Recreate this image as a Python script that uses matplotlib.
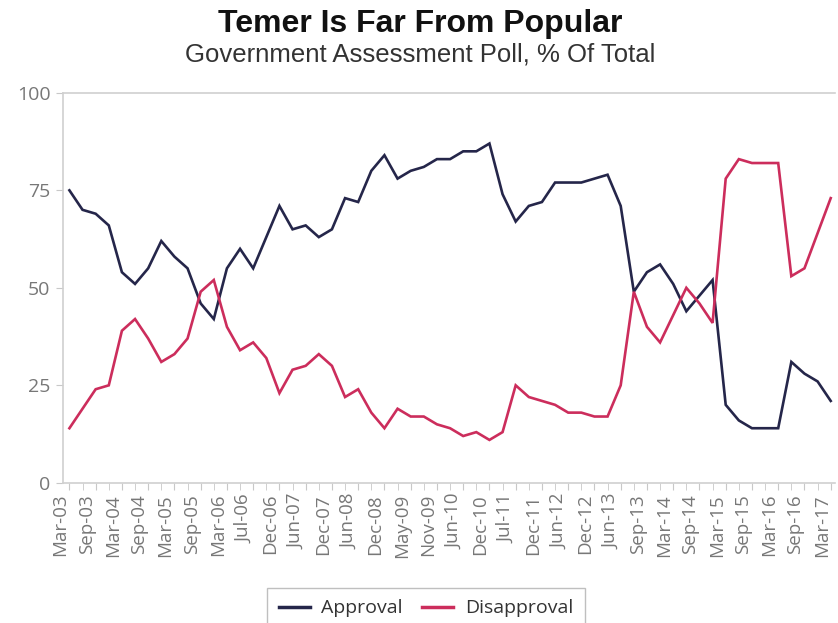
import matplotlib
matplotlib.use('Agg')
import matplotlib.pyplot as plt
import numpy as np

# poll readings, one per survey (59 surveys)
approval = [75, 70, 69, 66, 54, 51, 55, 62, 58, 55, 46, 42, 55, 60, 55, 63, 71, 65, 66, 63,
            65, 73, 72, 80, 84, 78, 80, 81, 83, 83, 85, 85, 87, 74, 67, 71, 72, 77, 77, 77,
            78, 79, 71, 49, 54, 56, 51, 44, 48, 52, 20, 16, 14, 14, 14, 31, 28, 26, 21]
disapproval = [14, 19, 24, 25, 39, 42, 37, 31, 33, 37, 49, 52, 40, 34, 36, 32, 23, 29, 30, 33,
               30, 22, 24, 18, 14, 19, 17, 17, 15, 14, 12, 13, 11, 13, 25, 22, 21, 20, 18, 18,
               17, 17, 25, 49, 40, 36, 43, 50, 46, 41, 78, 83, 82, 82, 82, 53, 55, 64, 73]

# every second survey gets a label
tick_labels = ['Mar-03', 'Sep-03', 'Mar-04', 'Sep-04', 'Mar-05', 'Sep-05', 'Mar-06', 'Jul-06',
               'Dec-06', 'Jun-07', 'Dec-07', 'Jun-08', 'Dec-08', 'May-09', 'Nov-09', 'Jun-10',
               'Dec-10', 'Jul-11', 'Dec-11', 'Jun-12', 'Dec-12', 'Jun-13', 'Sep-13', 'Mar-14',
               'Sep-14', 'Mar-15', 'Sep-15', 'Mar-16', 'Sep-16', 'Mar-17']

approval_color = '#25264a'
disapproval_color = '#cc2d5c'
grey_text = '#777777'

fig = plt.figure(figsize=(8.38, 6.23), dpi=100)
ax = fig.add_axes([0.075, 0.225, 0.921, 0.626])

x = np.arange(len(approval))
ax.plot(x, approval, color=approval_color, lw=1.9, label='Approval', solid_joinstyle='miter')
ax.plot(x, disapproval, color=disapproval_color, lw=1.9, label='Disapproval', solid_joinstyle='miter')

ax.set_xlim(-0.5, len(approval) - 0.7)
ax.set_ylim(0, 100)

ax.set_yticks([0, 25, 50, 75, 100])
ax.set_xticks(x, minor=True)
ax.set_xticks(x[::2])
# right-aligned rotated labels sit a bit left of their tick, like the original
ax.set_xticklabels(tick_labels, rotation=90, ha='right', fontsize=13.5,
                   color=grey_text, family='Open Sans')
for lab in ax.get_yticklabels():
    lab.set_fontsize(14)
    lab.set_color(grey_text)
    lab.set_family('Open Sans')

ax.tick_params(axis='x', which='both', length=5, color='#c8c8c8', pad=3)
ax.tick_params(axis='y', length=5, color='#c8c8c8', pad=4)

for side in ['left', 'bottom', 'top']:
    ax.spines[side].set_color('#d0d0d0')
    ax.spines[side].set_linewidth(1.2)
ax.spines['right'].set_visible(False)

fig.text(0.502, 0.962, 'Temer Is Far From Popular', ha='center', va='center',
         fontsize=23, fontweight='bold', family='Liberation Sans', color='#111111')
fig.text(0.502, 0.912, 'Government Assessment Poll, % Of Total', ha='center', va='center',
         fontsize=18.5, family='Liberation Sans', color='#333333')

leg = fig.legend(loc='upper center', bbox_to_anchor=(426 / 838, 1 - 578 / 623), ncol=2,
                 frameon=True, fancybox=False, edgecolor='#b0b0b0', borderpad=0.6,
                 handlelength=1.6, columnspacing=1.0, handletextpad=0.6,
                 prop={'family': 'Open Sans', 'size': 14})
for t in leg.get_texts():
    t.set_color('#333333')
for h in leg.get_lines():
    h.set_linewidth(2.5)

fig.savefig('out.png', dpi=100)
